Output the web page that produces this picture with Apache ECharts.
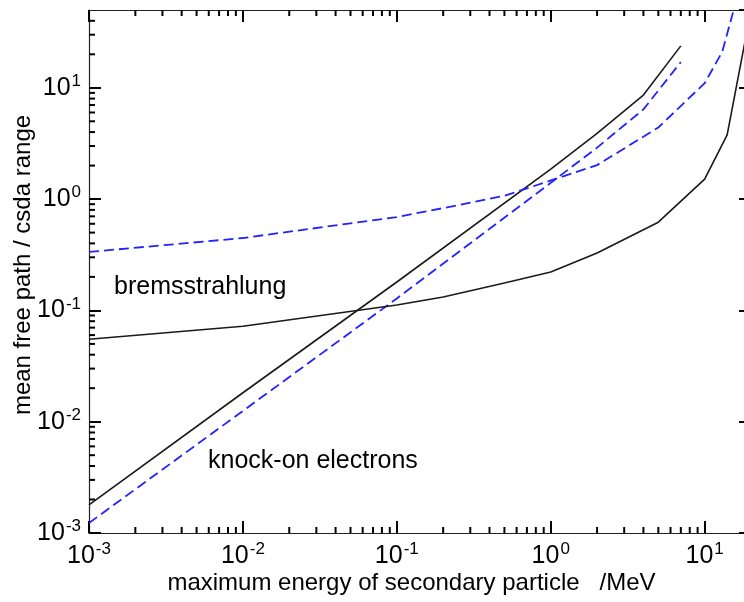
<!DOCTYPE html>
<html>
<head>
<meta charset="utf-8">
<script src="https://cdn.jsdelivr.net/npm/echarts@6/dist/echarts.min.js"></script>
<style>
html, body { margin: 0; padding: 0; background: #fff; }
#chart { width: 744px; height: 602px; }
</style>
</head>
<body>
<div id="chart"></div>
<script>
// axis ranges
var X_MIN = 0.001, X_MAX = 20
var Y_MIN = 0.001, Y_MAX = 50

// knock-on electrons
var knockE = [0.001, 0.01, 0.1, 1, 2, 4, 7]
var knockSolid = [0.00179, 0.0182, 0.18, 1.86, 3.9, 8.6, 23.8]
var knockDashE = [0.001, 0.01, 0.1, 1, 2, 4, 7]
var knockDashed = [0.00123, 0.0125, 0.128, 1.4, 2.9, 6.4, 17]

// bremsstrahlung
var bremE = [0.001, 0.01, 0.1, 0.2, 0.5, 1, 2, 5, 10, 14, 20]
var bremSolid = [0.055, 0.072, 0.112, 0.132, 0.176, 0.221, 0.328, 0.62, 1.51, 3.77, 50]
var bremDashE = [0.001, 0.01, 0.1, 0.2, 0.5, 1, 2, 5, 10, 13, 16]
var bremDashed = [0.335, 0.447, 0.69, 0.83, 1.07, 1.47, 2.02, 4.4, 11, 21, 60]

var FONT = 'Liberation Sans, Arial, sans-serif'

function pairs(xs, ys) {
    return xs.map(function (x, i) { return [x, ys[i]] })
}

// 2..9 x 10^n inside a range
function minorValues(lo, hi) {
    var out = []
    for (var e = Math.floor(Math.log10(lo)); e <= Math.ceil(Math.log10(hi)); e++) {
        for (var k = 2; k <= 9; k++) {
            var v = k * Math.pow(10, e)
            if (v > lo && v < hi) out.push(v)
        }
    }
    return out
}

function powLabel(v) {
    var e = Math.log10(v)
    if (Math.abs(e - Math.round(e)) > 1e-6) return ''
    return '{b|10}{s|' + Math.round(e) + '}'
}

var labelRich = {
    b: { fontSize: 25, fontFamily: FONT, color: '#000', lineHeight: 30 },
    s: { fontSize: 17, fontFamily: FONT, color: '#000', verticalAlign: 'top', lineHeight: 30, padding: [0, 0, 14, 1] }
}

var chart = echarts.init(document.getElementById('chart'), null, { renderer: 'canvas' })

var TICK = '#000'
var TICK_W = 2
var tickStyle = { color: TICK, width: TICK_W }
var lineAxis = { show: true, lineStyle: { color: '#222', width: 1.2 } }

var option = {
    animation: false,
    backgroundColor: '#fff',
    grid: { left: 89, top: 10, width: 662, height: 523, containLabel: false, outerBoundsMode: 'none' },
    xAxis: [
        {
            type: 'log', logBase: 10, min: X_MIN, max: X_MAX, position: 'bottom',
            axisLine: lineAxis,
            axisTick: { show: true, inside: true, length: 12, lineStyle: tickStyle },
            axisLabel: { formatter: powLabel, margin: 8, rich: labelRich, showMaxLabel: false },
            splitLine: { show: false },
            name: 'maximum energy of secondary particle   /MeV',
            nameLocation: 'middle',
            nameGap: 38,
            nameMoveOverlap: false,
            nameTextStyle: { fontSize: 24, fontFamily: FONT, color: '#000', padding: [0, 17, 0, 0] }
        },
        {
            type: 'log', logBase: 10, min: X_MIN, max: X_MAX, position: 'top',
            axisLine: lineAxis,
            axisTick: { show: true, inside: true, length: 12, lineStyle: tickStyle },
            axisLabel: { show: false },
            splitLine: { show: false }
        }
    ],
    yAxis: [
        {
            type: 'log', logBase: 10, min: Y_MIN, max: Y_MAX, position: 'left',
            axisLine: lineAxis,
            axisTick: { show: true, inside: true, length: 12, lineStyle: tickStyle },
            axisLabel: { formatter: powLabel, margin: 8, rich: labelRich, showMaxLabel: false },
            splitLine: { show: false },
            name: 'mean free path / csda range',
            nameLocation: 'middle',
            nameGap: 54,
            nameMoveOverlap: false,
            nameTextStyle: { fontSize: 24, fontFamily: FONT, color: '#000', padding: [0, 0, 0, 13] }
        },
        {
            type: 'log', logBase: 10, min: Y_MIN, max: Y_MAX, position: 'right',
            axisLine: lineAxis,
            axisTick: { show: true, inside: true, length: 12, lineStyle: tickStyle },
            axisLabel: { show: false },
            splitLine: { show: false }
        }
    ],
    graphic: [
        { type: 'text', left: 114, top: 275, style: { text: 'bremsstrahlung', font: '25px ' + FONT, fill: '#000' } },
        { type: 'text', left: 208, top: 449, style: { text: 'knock-on electrons', font: '25px ' + FONT, fill: '#000' } }
    ],
    series: [
        {
            type: 'line', data: pairs(knockE, knockSolid), symbol: 'none',
            lineStyle: { color: '#1a1a1a', width: 1.6 }
        },
        {
            type: 'line', data: pairs(knockDashE, knockDashed), symbol: 'none',
            lineStyle: { color: '#2222ff', width: 1.8, type: [10, 5] }
        },
        {
            type: 'line', data: pairs(bremE, bremSolid), symbol: 'none',
            lineStyle: { color: '#1a1a1a', width: 1.6 }
        },
        {
            type: 'line', data: pairs(bremDashE, bremDashed), symbol: 'none',
            lineStyle: { color: '#2222ff', width: 1.8, type: [10, 5] }
        },
        {
            // minor ticks on bottom and top
            type: 'custom', silent: true,
            data: minorValues(X_MIN, X_MAX).map(function (v) { return [v, Y_MIN] }),
            encode: { x: 0, y: 1 },
            renderItem: function (params, api) {
                var v = api.value(0)
                var b = api.coord([v, Y_MIN])
                var t = api.coord([v, Y_MAX])
                return {
                    type: 'group',
                    children: [
                        { type: 'line', shape: { x1: b[0], y1: b[1], x2: b[0], y2: b[1] - 6 }, style: { stroke: TICK, lineWidth: TICK_W } },
                        { type: 'line', shape: { x1: t[0], y1: t[1], x2: t[0], y2: t[1] + 6 }, style: { stroke: TICK, lineWidth: TICK_W } }
                    ]
                }
            }
        },
        {
            // minor ticks on left and right
            type: 'custom', silent: true,
            data: minorValues(Y_MIN, Y_MAX).map(function (v) { return [X_MIN, v] }),
            encode: { x: 0, y: 1 },
            renderItem: function (params, api) {
                var v = api.value(1)
                var l = api.coord([X_MIN, v])
                var r = api.coord([X_MAX, v])
                return {
                    type: 'group',
                    children: [
                        { type: 'line', shape: { x1: l[0], y1: l[1], x2: l[0] + 6, y2: l[1] }, style: { stroke: TICK, lineWidth: TICK_W } },
                        { type: 'line', shape: { x1: r[0], y1: r[1], x2: r[0] - 6, y2: r[1] }, style: { stroke: TICK, lineWidth: TICK_W } }
                    ]
                }
            }
        }
    ]
}

chart.setOption(option)
window.addEventListener('resize', function () {
    chart.resize()
})
</script>
</body>
</html>
